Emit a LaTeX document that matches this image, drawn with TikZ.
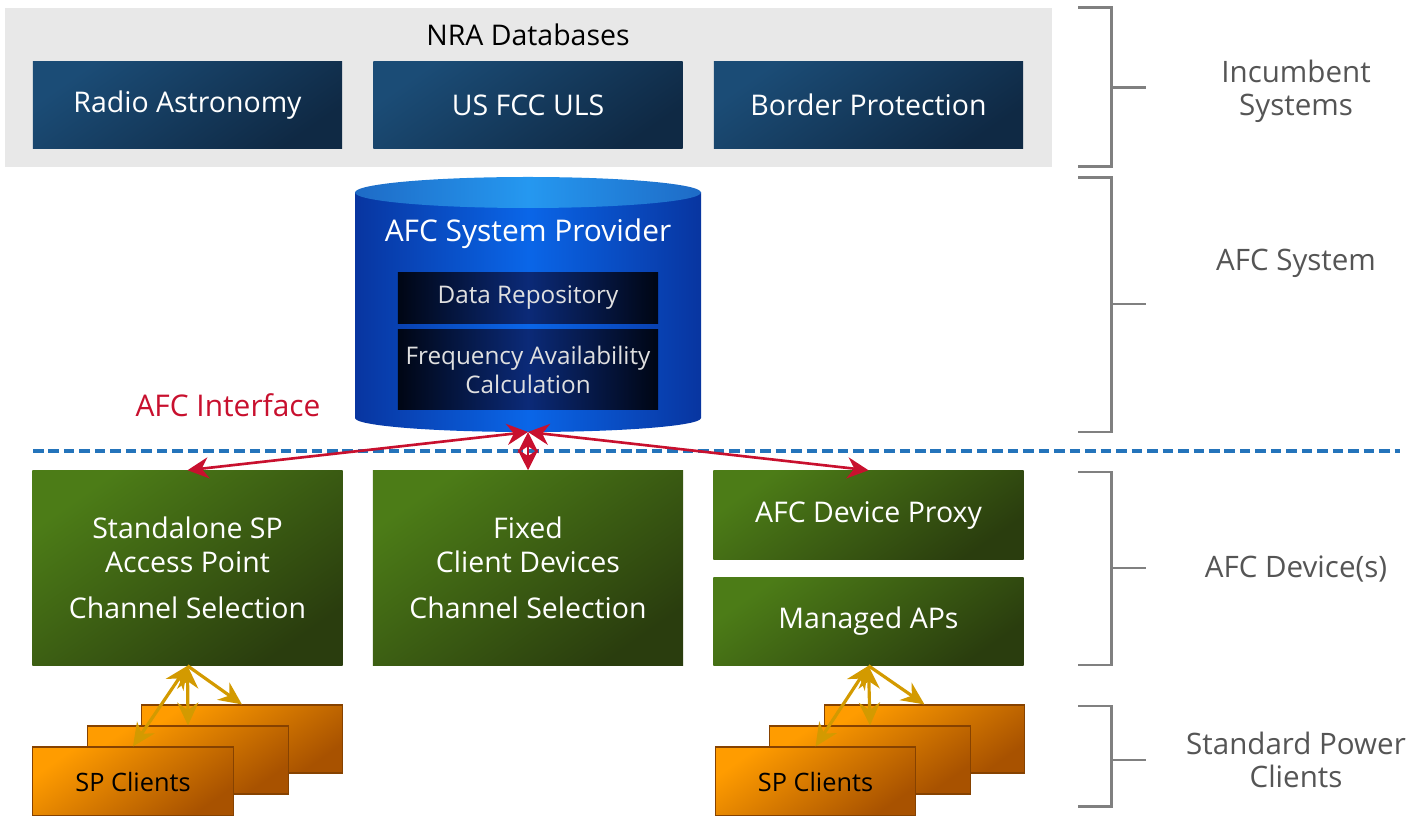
\documentclass[tikz,border=0pt]{standalone}
\usepackage{fontspec}
\setmainfont{Open Sans}
\usetikzlibrary{arrows.meta}

\definecolor{nrablue}{HTML}{1B4C76}
\definecolor{nradark}{HTML}{0F2944}
\definecolor{devgreen}{HTML}{4C7C17}
\definecolor{devdark}{HTML}{2A3D0E}
\definecolor{sporange}{HTML}{FF9C00}
\definecolor{spdark}{HTML}{A85200}
\definecolor{afcred}{HTML}{C8102E}
\definecolor{linkgold}{HTML}{D39A00}
\definecolor{tiergray}{HTML}{808080}
\definecolor{labelgray}{HTML}{555555}
\definecolor{dashblue}{HTML}{2474BB}
\definecolor{cylside}{HTML}{0835A0}
\definecolor{cylmid}{HTML}{0A66E8}
\definecolor{capside}{HTML}{1E6BC6}
\definecolor{capmid}{HTML}{2598F0}
\definecolor{repoedge}{HTML}{000614}
\definecolor{repomid}{HTML}{0B2A78}

\begin{document}
\begin{tikzpicture}[
        x = 0.01cm, y = -0.01cm, % one unit = one pixel of the reference
        > = {Stealth[length=6pt, width=6pt]}, % arrow head style
        font = \fontsize{8.1}{9.7}\selectfont
    ]

    \tikzset{
        nrabox/.style = {
            minimum width = 3.09cm,
            minimum height = 0.86cm,
            text = white,
            top color = nrablue,
            bottom color = nradark,
            shading angle = 35
        },
        devbox/.style = {
            minimum width = 3.10cm,
            text = white,
            align = center,
            top color = devgreen,
            bottom color = devdark,
            shading angle = 35
        },
        repobox/.style = {
            minimum width = 2.60cm,
            inner xsep = 1pt,
            text = white!88!black,
            align = center,
            font = \fontsize{6.9}{8.2}\selectfont,
            left color = repoedge,
            right color = repoedge,
            middle color = repomid
        },
        clientbox/.style = {
            minimum width = 2.00cm,
            minimum height = 0.68cm,
            draw = spdark!80!black,
            line width = 0.3pt,
            top color = sporange,
            bottom color = spdark,
            shading angle = 35,
            font = \fontsize{7.2}{8.6}\selectfont
        },
        afclink/.style = {<->, afcred, line width = 0.75pt},
        splink/.style = {linkgold, line width = 0.9pt, >={Stealth[length=6.5pt, width=6pt]}},
        tier/.style = {tiergray, line width = 0.85pt},
        tierlabel/.style = {text = labelgray, align = center, font = \fontsize{8.4}{9.4}\selectfont}
    }

    \useasboundingbox (0,0) rectangle (1419,816);

    % incumbent databases
    \fill[gray!18] (5,8) rectangle (1052,167);
    \node (nra) at (528,35) {NRA Databases};
    \node[nrabox] (radio) at (187.5,105) {Radio Astronomy};
    \node[nrabox] (fcc) at (528,105) {US FCC ULS};
    \node[nrabox] (border) at (868.5,105) {Border Protection};

    % AFC system provider
    \shade[left color = cylside, right color = cylside, middle color = cylmid]
        (355,192.5) -- (355,418)
        arc[start angle = 180, end angle = 0, x radius = 173, y radius = 14]
        -- (701,192.5) -- cycle;
    \shade[left color = capside, right color = capside, middle color = capmid]
        (528,192.5) ellipse [x radius = 173, y radius = 15.5];
    \node[text = white, font = \fontsize{8.5}{10}\selectfont] (afcsp) at (528,234) {AFC System Provider};
    \node[repobox, minimum height = 0.50cm] (repo) at (528,298) {Data Repository};
    \node[repobox, minimum height = 0.79cm] (calc) at (528,369.5) {Frequency Availability\\Calculation};
    \coordinate (afcbot) at (528,432);

    \node[text = afcred, font = \fontsize{8.5}{10}\selectfont] (iface) at (228,405) {AFC Interface};
    \draw[dashblue, line width = 0.9pt, dash pattern = on 3pt off 1.4pt] (33,451) -- (1400,451);

    % AFC devices
    \node[devbox, minimum height = 1.94cm] (standalone) at (187.5,568)
        {Standalone SP\\Access Point\\[3.5pt]Channel Selection};
    \node[devbox, minimum height = 1.94cm] (fixed) at (528,568)
        {Fixed\\Client Devices\\[3.5pt]Channel Selection};
    \node[devbox, minimum height = 0.88cm] (proxy) at (868.5,515) {AFC Device Proxy};
    \node[devbox, minimum height = 0.87cm] (managed) at (868.5,621.5) {Managed APs};

    \draw[afclink] (afcbot) -- (standalone.north);
    \draw[afclink] (afcbot) -- (fixed.north);
    \draw[afclink] (afcbot) -- (proxy.north);

    % standard power clients
    \node[clientbox] (lback) at (242,739) {};
    \node[clientbox] (lmid) at (188,760) {};
    \node[clientbox, minimum height = 0.69cm] (lfront) at (133,781.5) {SP Clients};
    \node[clientbox] (rback) at (924.5,739) {};
    \node[clientbox] (rmid) at (870,760) {};
    \node[clientbox, minimum height = 0.69cm] (rfront) at (815.5,781.5) {SP Clients};

    \draw[splink, <->] (standalone.south) -- (lfront.north);
    \draw[splink, <->] (standalone.south) -- (lmid.north);
    \draw[splink, ->] (standalone.south) -- (lback.north);
    \draw[splink, <->] (managed.south) -- (rfront.north);
    \draw[splink, <->] (managed.south) -- (rmid.north);
    \draw[splink, ->] (managed.south) -- (rback.north);

    % tiers
    \draw[tier] (1078,8) -| (1111,167) -- (1078,167);
    \draw[tier] (1111,88) -- (1146,88);
    \draw[tier] (1078,178) -| (1111,432) -- (1078,432);
    \draw[tier] (1111,304) -- (1146,304);
    \draw[tier] (1078,472) -| (1111,665) -- (1078,665);
    \draw[tier] (1111,568) -- (1146,568);
    \draw[tier] (1078,706) -| (1111,806) -- (1078,806);
    \draw[tier] (1111,760) -- (1146,760);

    \node[tierlabel] (incumbent) at (1296,91) {Incumbent\\Systems};
    \node[tierlabel] (system) at (1296,263) {AFC System};
    \node[tierlabel] (devices) at (1296,569) {AFC Device(s)};
    \node[tierlabel] (clients) at (1296,760) {Standard Power\\Clients};

\end{tikzpicture}
\end{document}
